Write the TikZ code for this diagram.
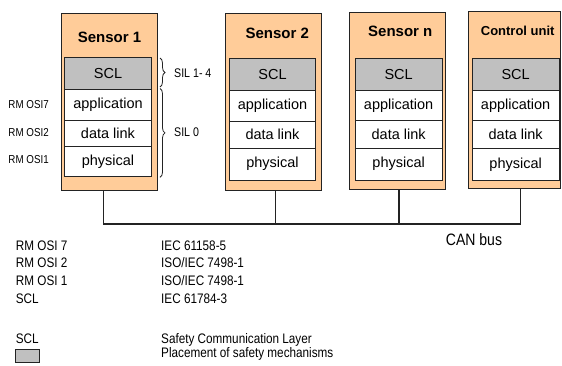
\documentclass[tikz,border=0pt]{standalone}
\usepackage{fontspec}
\setmainfont{Liberation Sans}
\newfontfamily\lf[FakeStretch=0.85]{Liberation Sans}
\usetikzlibrary{decorations.pathreplacing}
\definecolor{peach}{RGB}{255,204,153}
\definecolor{sclgray}{RGB}{192,192,192}
\definecolor{edge}{RGB}{35,35,35}
\begin{document}
\begin{tikzpicture}[x=1pt,y=-1pt,
  box/.style={draw=edge, line width=0.9pt, anchor=north west, inner sep=0pt, outer sep=0pt},
  unitbox/.style={box, fill=peach},
  layer/.style={box, fill=white, font=\fontsize{14.5}{16}\selectfont},
  scl/.style={layer, fill=sclgray},
  title/.style={inner sep=0pt, font=\fontsize{15}{17}\selectfont\bfseries},
  ctitle/.style={inner sep=0pt, font=\fontsize{13}{15}\selectfont\bfseries},
  small/.style={inner sep=0pt, anchor=west, font=\lf\fontsize{11.5}{13}\selectfont},
  sil/.style={inner sep=0pt, anchor=west, font=\lf\fontsize{12.5}{14}\selectfont},
  legend/.style={inner sep=0pt, anchor=west, font=\lf\fontsize{13.8}{16}\selectfont},
  wire/.style={draw=edge, line width=1.1pt},
  bus/.style={draw=edge, line width=1.8pt},
  bracestyle/.style={draw=edge, line width=0.8pt, decorate, decoration={brace, amplitude=5pt}}
]
\useasboundingbox (0,0) rectangle (562,365);

% Sensor 1
\node[unitbox, minimum width=96pt, minimum height=177.4pt] (s1) at (61.7,13.3) {};
\node[title] (s1t) at (109.5,37.5) {Sensor 1};
\node[scl, minimum width=87.4pt, minimum height=32pt] (s1scl) at (64.3,57.3) {SCL};
\node[layer, minimum width=87.4pt, minimum height=30.7pt] (s1app) at (64.3,89.3) {application};
\node[layer, minimum width=87.4pt, minimum height=26.7pt] (s1dl) at (64.3,120) {data link};
\node[layer, minimum width=87.4pt, minimum height=30pt] (s1ph) at (64.3,146.7) {physical};

% Sensor 2
\node[unitbox, minimum width=96pt, minimum height=177.4pt] (s2) at (225.7,13.3) {};
\node[title] (s2t) at (277.3,33) {Sensor 2};
\node[scl, minimum width=86.4pt, minimum height=32pt] (s2scl) at (229.3,58.7) {SCL};
\node[layer, minimum width=86.4pt, minimum height=30.3pt] (s2app) at (229.3,90.7) {application};
\node[layer, minimum width=86.4pt, minimum height=27pt] (s2dl) at (229.3,121) {data link};
\node[layer, minimum width=86.4pt, minimum height=32pt] (s2ph) at (229.3,148) {physical};

% Sensor n
\node[unitbox, minimum width=96.4pt, minimum height=176.6pt] (sn) at (349.3,12.7) {};
\node[title] (snt) at (400.3,31) {Sensor n};
\node[scl, minimum width=87.3pt, minimum height=32pt] (snscl) at (355,58.7) {SCL};
\node[layer, minimum width=87.3pt, minimum height=30pt] (snapp) at (355,90.7) {application};
\node[layer, minimum width=87.3pt, minimum height=27.6pt] (sndl) at (355,120.7) {data link};
\node[layer, minimum width=87.3pt, minimum height=31.7pt] (snph) at (355,148.3) {physical};

% Control unit
\node[unitbox, minimum width=91.7pt, minimum height=177pt] (cu) at (468.3,11.7) {};
\node[ctitle] (cut) at (517.7,30.8) {Control unit};
\node[scl, minimum width=86.7pt, minimum height=32pt] (cuscl) at (472.3,58.7) {SCL};
\node[layer, minimum width=86.7pt, minimum height=30pt] (cuapp) at (472.3,90.7) {application};
\node[layer, minimum width=86.7pt, minimum height=28pt] (cudl) at (472.3,120.7) {data link};
\node[layer, minimum width=86.7pt, minimum height=31.3pt] (cuph) at (472.3,148.7) {physical};

% Braces
\coordinate (br1a) at (160,58);
\coordinate (br1b) at (160,87);
\coordinate (br2a) at (160,88.5);
\coordinate (br2b) at (160,177.3);
\draw[bracestyle] (br1a) -- (br1b);
\draw[bracestyle] (br2a) -- (br2b);
\node[sil] (sil1) at (174,72.7) {SIL 1- 4};
\node[sil] (sil0) at (174,131.7) {SIL 0};

% OSI labels
\node[small] (rm7) at (8.3,105) {RM OSI7};
\node[small] (rm2) at (8.3,132.7) {RM OSI2};
\node[small] (rm1) at (8.3,159.3) {RM OSI1};

% Bus
\coordinate (b1) at (103.3,224);
\coordinate (b2) at (275.3,224);
\coordinate (b3) at (399,224);
\coordinate (b4) at (520.7,224);
\draw[wire] (b1 |- s1.south) -- (b1);
\draw[wire] (b2 |- s2.south) -- (b2);
\draw[wire] (b3 |- sn.south) -- (b3);
\draw[wire] (b4 |- cu.south) -- (b4);
\draw[bus] ([xshift=-0.55pt]b1) -- ([xshift=0.55pt]b4);
\node[legend, anchor=center, font=\lf\fontsize{16.5}{18}\selectfont] (can) at (474,239.3) {CAN bus};

% Legend
\node[legend] (l1) at (15.7,245.5) {RM OSI 7};
\node[legend] (l2) at (15.7,262.8) {RM OSI 2};
\node[legend] (l3) at (15.7,280.6) {RM OSI 1};
\node[legend] (l4) at (15.7,298.8) {SCL};
\node[legend] (r1) at (161,245.5) {IEC 61158-5};
\node[legend] (r2) at (161,262.8) {ISO/IEC 7498-1};
\node[legend] (r3) at (161,280.6) {ISO/IEC 7498-1};
\node[legend] (r4) at (161,298.8) {IEC 61784-3};
\node[legend] (l5) at (15.7,338.3) {SCL};
\node[box, fill=sclgray, line width=0.8pt, minimum width=24.3pt, minimum height=12.8pt] (lbox) at (15,349.4) {};
\node[legend] (r5) at (161,339.5) {Safety Communication Layer};
\node[legend] (r6) at (161,353.5) {Placement of safety mechanisms};
\end{tikzpicture}
\end{document}
